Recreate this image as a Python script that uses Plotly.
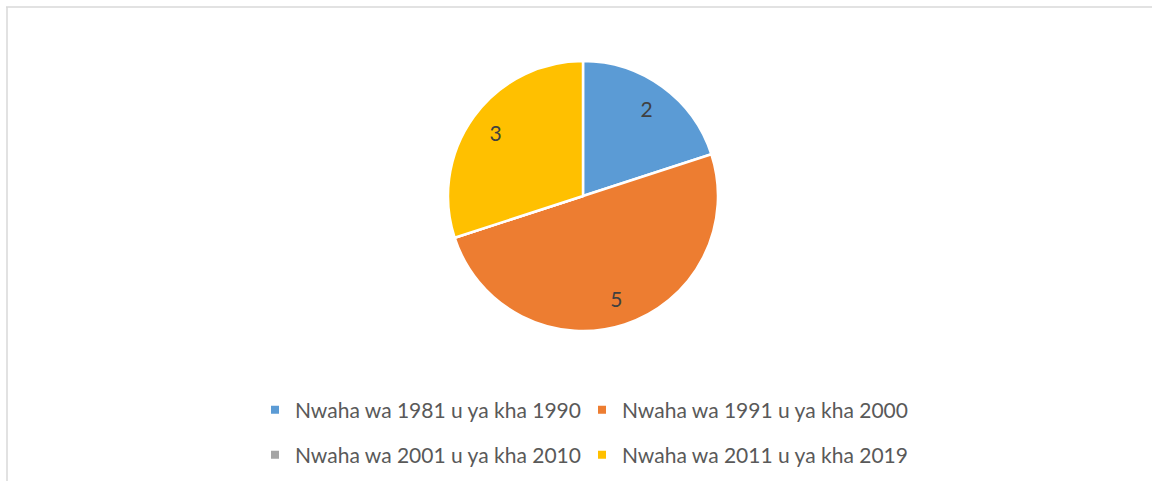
import plotly.graph_objects as go

categories = ["Nwaha wa 1981 u ya kha 1990", "Nwaha wa 1991 u ya kha 2000",
              "Nwaha wa 2001 u ya kha 2010", "Nwaha wa 2011 u ya kha 2019"]
values = [2, 5, 0, 3]
colors = ["#5B9BD5", "#ED7D31", "#A5A5A5", "#FFC000"]

W, H = 1152, 481
FONT = "Lato"
FS = 21

fig = go.Figure()

cx, cy, r = 583, 196, 135
dom = dict(x=[(cx - r) / W, (cx + r) / W], y=[1 - (cy + r) / H, 1 - (cy - r) / H])

# filled pie
fig.add_trace(go.Pie(
    labels=categories, values=values, sort=False, direction="clockwise",
    rotation=0, marker=dict(colors=colors, line=dict(color="white", width=2.5)),
    textinfo="none", showlegend=False, hoverinfo="label+value", domain=dom,
))
# transparent ring carrying the value labels (places labels toward the rim)
fig.add_trace(go.Pie(
    labels=categories, values=values, sort=False, direction="clockwise",
    rotation=0, hole=0.6,
    marker=dict(colors=["rgba(0,0,0,0)"] * len(values), line=dict(width=0)),
    textinfo="value", textposition="inside", insidetextorientation="horizontal",
    textfont=dict(family=FONT, size=FS, color="#404040"),
    showlegend=False, hoverinfo="skip", domain=dom,
))

# legend entries (two rows of two)
for i, (cat, col) in enumerate(zip(categories, colors)):
    fig.add_trace(go.Scatter(
        x=[None], y=[None], mode="markers", name=cat,
        marker=dict(symbol="square", size=8, color=col),
        legend="legend" if i < 2 else "legend2",
    ))

legend_common = dict(orientation="h", xanchor="left", yanchor="middle",
                     entrywidth=282, entrywidthmode="pixels",
                     font=dict(family=FONT, size=FS, color="#595959"),
                     bgcolor="rgba(0,0,0,0)", itemclick=False, itemdoubleclick=False)

fig.update_layout(
    width=W, height=H,
    margin=dict(l=0, r=0, t=0, b=0),
    paper_bgcolor="white", plot_bgcolor="white",
    xaxis=dict(visible=False), yaxis=dict(visible=False),
    legend=dict(x=255 / W, y=1 - 410 / H, **legend_common),
    legend2=dict(x=255 / W, y=1 - 455 / H, **legend_common),
    shapes=[
        dict(type="line", xref="paper", yref="paper", x0=6 / W, x1=1.0,
             y0=1 - 7 / H, y1=1 - 7 / H, line=dict(color="#D9D9D9", width=1.5)),
        dict(type="line", xref="paper", yref="paper", x0=7 / W, x1=7 / W,
             y0=0, y1=1 - 7 / H, line=dict(color="#D9D9D9", width=1.5)),
    ],
)

fig.write_html("out.html", config={"displayModeBar": False},
               post_script="document.body.style.margin='0';")
